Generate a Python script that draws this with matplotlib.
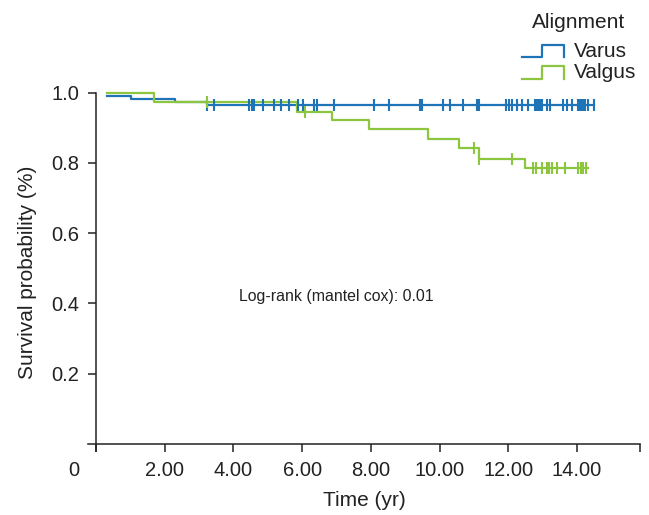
import numpy as np
import matplotlib
matplotlib.use("Agg")
import matplotlib.pyplot as plt
from matplotlib.legend_handler import HandlerBase
from matplotlib.lines import Line2D
from matplotlib.transforms import ScaledTranslation

plt.rcParams['font.family'] = ['Liberation Sans', 'DejaVu Sans']

# ---- data ----
varus_times = [0.32, 1.03, 2.30, 3.22]
varus_surv = [0.991, 0.983, 0.974, 0.966]
varus_end = 14.49
varus_censor = [3.22, 3.43, 4.46, 4.53, 4.60, 4.87, 5.19, 5.38, 5.62, 5.87, 6.03, 6.34, 6.42,
                6.93, 8.09, 8.53, 9.43, 9.48, 10.09, 10.30, 10.67, 11.10, 11.16, 11.92, 12.02,
                12.11, 12.24, 12.39, 12.56, 12.78, 12.83, 12.87, 12.92, 12.97, 13.12, 13.21,
                13.60, 13.70, 13.84, 14.03, 14.07, 14.11, 14.15, 14.19, 14.23, 14.33, 14.48]

valgus_times = [0.32, 1.69, 5.86, 6.86, 7.95, 9.65, 10.57, 11.15, 12.48]
valgus_surv = [1.0, 0.974, 0.946, 0.922, 0.896, 0.868, 0.843, 0.812, 0.785]
valgus_end = 14.33
valgus_censor = [3.22, 6.08, 11.00, 11.16, 12.10, 12.73, 12.80, 12.97, 13.11, 13.19, 13.26,
                 13.41, 13.65, 14.04, 14.10, 14.18, 14.26]

xticks = [0, 2, 4, 6, 8, 10, 12, 14]
xticklabels = ['0', '2.00', '4.00', '6.00', '8.00', '10.00', '12.00', '14.00']
yticks = [0.2, 0.4, 0.6, 0.8, 1.0]
yticklabels = ['0.2', '0.4', '0.6', '0.8', '1.0']
group_labels = ['Varus', 'Valgus']

blue = '#1f74b8'
green = '#8cc63f'
txt = '#222222'

fig = plt.figure(figsize=(6.49, 5.15), dpi=100)
ax = fig.add_axes([88/649, 1-451/515, 552/649, (451-92.7)/515])


def surv_at(times, surv, t):
    idx = np.searchsorted(times, t, side='right') - 1
    return np.array(surv)[idx]


for times, surv, end, cens, col in [
        (varus_times, varus_surv, varus_end, varus_censor, blue),
        (valgus_times, valgus_surv, valgus_end, valgus_censor, green)]:
    xs = list(times) + [end]
    ys = list(surv) + [surv[-1]]
    ax.step(xs, ys, where='post', color=col, lw=1.6, clip_on=False, zorder=3)
    cy = surv_at(times, surv, np.array(cens))
    ax.plot(cens, cy, ls='none', marker='|', ms=8, mew=1.5, color=col, clip_on=False, zorder=4)

ax.set_xlim(-0.23, 15.83)
ax.set_ylim(-0.02, 1.0)

for s in ['top', 'right']:
    ax.spines[s].set_visible(False)
ax.spines['left'].set_position(('data', 0))
ax.spines['bottom'].set_position(('data', 0))
for s in ['left', 'bottom']:
    ax.spines[s].set_linewidth(1.1)
    ax.spines[s].set_color(txt)

ax.set_xticks(xticks + [15.83])
ax.set_xticklabels(xticklabels + [''], fontsize=14.5, color=txt)
ax.set_yticks(yticks)
ax.set_yticklabels(yticklabels, fontsize=14.5, color=txt)
ax.tick_params(axis='both', direction='out', length=6, width=1.1, color=txt, pad=6)

lbl0 = ax.get_xticklabels()[0]
lbl0.set_transform(lbl0.get_transform() + ScaledTranslation(-0.22, 0, fig.dpi_scale_trans))

ax.set_xlabel('Time (yr)', fontsize=15, color=txt, labelpad=8)
ax.set_ylabel('Survival probability (%)', fontsize=15, color=txt, labelpad=10)

ax.text(6.98, 0.421, 'Log-rank (mantel cox): 0.01', fontsize=11.4, color=txt,
        ha='center', va='center')


class StepHandler(HandlerBase):
    def create_artists(self, legend, orig_handle, xdescent, ydescent, width, height, fontsize, trans):
        lo = -ydescent + 0.0 * height
        hi = -ydescent + 0.85 * height
        x0 = -xdescent
        xs = [x0, x0 + 0.48 * width, x0 + 0.48 * width, x0 + width, x0 + width]
        ys = [lo, lo, hi, hi, lo]
        ln = Line2D(xs, ys, color=orig_handle.get_color(), lw=1.6, transform=trans)
        return [ln]


h1 = Line2D([], [], color=blue)
h2 = Line2D([], [], color=green)
leg = fig.legend([h1, h2], group_labels,
                 handler_map={Line2D: StepHandler()},
                 loc='upper left', bbox_to_anchor=(522/649, 1-42/515),
                 frameon=False, fontsize=15,
                 handlelength=2.0, handletextpad=0.5, labelspacing=0.12,
                 borderpad=0, borderaxespad=0)
for t in leg.get_texts():
    t.set_color(txt)

fig.text(579/649, 1-22/515, 'Alignment', fontsize=15, color=txt, ha='center', va='center')

fig.savefig('out.png', dpi=100)
